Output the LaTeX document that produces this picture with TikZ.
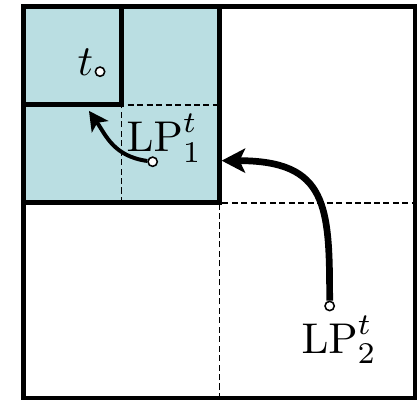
\documentclass[tikz,border=0pt]{standalone}
\usepackage{amsmath}
\usepackage{tikz}
\usetikzlibrary{arrows.meta, positioning, calc}

\definecolor{cellblue}{RGB}{186,222,226}

\begin{document}
\begin{tikzpicture}[
    wall/.style={line width=1.45pt, line join=miter},
    split/.style={line width=0.3pt, dash pattern=on 1.75pt off 1pt},
    pt/.style={circle, draw, fill=white, line width=0.45pt, inner sep=0pt, minimum size=0.095cm},
    lab/.style={anchor=base west, inner sep=0pt},
    move/.style={line width=1.15pt, -{Stealth[length=5.6pt, width=5.8pt, inset=1.4pt]}},
    bigmove/.style={line width=1.95pt, -{Stealth[length=6.8pt, width=7pt, inset=1.6pt]}}
  ]
    \useasboundingbox (-0.2398,-0.0102) rectangle (4.0153,4.0714);
    % filled quadrant
    \fill[cellblue] (0,2) rectangle (2,4);
    % dashed splits
    \draw[split] (2,0) -- (2,2) -- (4,2);
    \draw[split] (1,2) -- (1,3) -- (2,3);
    % cells
    \draw[wall] (0,0) rectangle (4,4);
    \draw[wall] (0,2) rectangle (2,4);
    \draw[wall] (0,3) rectangle (1,4);

    \coordinate (tip1) at (0.668,2.94);
    \coordinate (tip2) at (2.022,2.432);
    \node[pt] (tq) at (0.781,3.340) {};
    \node[pt] (lp1) at (1.318,2.421) {};
    \node[pt] (lp2) at (3.124,0.949) {};

    \draw[move] (lp1) to[out=172, in=-55, out distance=0.35cm, in distance=0.3cm] (tip1);
    \draw[bigmove] (lp2) to[out=90, in=0, out distance=0.97cm, in distance=1.08cm] (tip2);

    \node[lab] (tlab) at (0.545,3.306) {\scalebox{1.25}{$t$}};
    \node[lab] (lp1lab) at (1.045,2.523) {\scalebox{1.25}{$\mathrm{LP}^t_1$}};
    \node[lab] (lp2lab) at (2.83,0.466) {\scalebox{1.25}{$\mathrm{LP}^t_2$}};
\end{tikzpicture}
\end{document}
